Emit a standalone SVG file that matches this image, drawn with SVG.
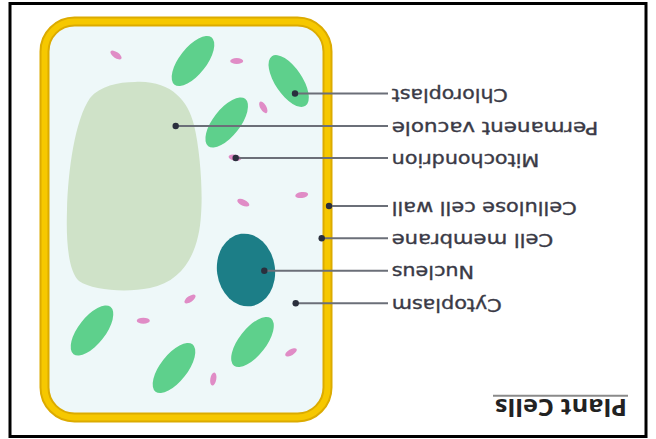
<svg xmlns="http://www.w3.org/2000/svg" width="656" height="439" viewBox="0 0 656 439">
  <style>
    .frame { fill: #ffffff; stroke: #000000; stroke-width: 3; }
    .wall-outer { fill: #eef8f9; stroke: #dcab00; stroke-width: 10; }
    .wall-inner { fill: none; stroke: #f6c800; stroke-width: 6; }
    .vacuole { fill: #cfe2c8; }
    .nucleus { fill: #1c7e87; }
    .chloro { fill: #5ed08c; }
    .mito { fill: #e08cc6; }
    .leader { stroke: #6b6f78; stroke-width: 2; fill: none; }
    .pin { fill: #2a2f3d; }
    .label { font-family: "DejaVu Sans", "Liberation Sans", sans-serif; font-size: 17px; fill: #3a3a46; stroke: #3a3a46; stroke-width: 0.35; }
    .title { font-family: "Open Sans", "Liberation Sans", sans-serif; font-size: 24px; font-weight: bold; fill: #222222; }
    .rule { stroke: #8a8a8a; stroke-width: 2; }
  </style>

  <rect class="frame" x="10" y="3.5" width="636" height="433"/>

  <!-- cell wall and membrane -->
  <g id="cell-wall">
    <rect class="wall-outer" x="44.5" y="21.5" width="283" height="396" rx="30" ry="30"/>
    <rect class="wall-inner" x="44.5" y="21.5" width="283" height="396" rx="30" ry="30"/>
  </g>

  <!-- permanent vacuole -->
  <g id="vacuole">
    <path class="vacuole" d="M135 82 C170 80 188 100 194 125 C200 150 203 190 201 215 C199 250 185 281 150 288 C125 293 92 290 79 281 C68 271 66 240 67 210 C68 170 75 120 90 98 C100 86 118 82 135 82 Z"/>
  </g>

  <!-- nucleus -->
  <g id="nucleus">
    <ellipse class="nucleus" cx="246" cy="270" rx="29" ry="36.5" transform="rotate(-8 246 270)"/>
  </g>

  <!-- chloroplasts -->
  <g id="chloroplasts">
    <ellipse class="chloro" cx="193" cy="61" rx="30" ry="13.5" transform="rotate(-52 193 61)"/>
    <ellipse class="chloro" cx="288.7" cy="81" rx="30" ry="13.5" transform="rotate(56 288.7 81)"/>
    <ellipse class="chloro" cx="226.7" cy="122.5" rx="30" ry="13.5" transform="rotate(-52 226.7 122.5)"/>
    <ellipse class="chloro" cx="92" cy="330.5" rx="30" ry="13.5" transform="rotate(-52 92 330.5)"/>
    <ellipse class="chloro" cx="174" cy="368" rx="30" ry="13.5" transform="rotate(-52 174 368)"/>
    <ellipse class="chloro" cx="252.5" cy="342" rx="30" ry="13.5" transform="rotate(-52 252.5 342)"/>
  </g>

  <!-- mitochondria -->
  <g id="mitochondria">
    <ellipse class="mito" cx="116" cy="55" rx="6.5" ry="3" transform="rotate(35 116 55)"/>
    <ellipse class="mito" cx="236.7" cy="61" rx="6.5" ry="3"/>
    <ellipse class="mito" cx="263.3" cy="107.3" rx="6.5" ry="3" transform="rotate(60 263.3 107.3)"/>
    <ellipse class="mito" cx="235" cy="157.7" rx="6.5" ry="3" transform="rotate(10 235 157.7)"/>
    <ellipse class="mito" cx="301.7" cy="195" rx="6.5" ry="3" transform="rotate(-8 301.7 195)"/>
    <ellipse class="mito" cx="243.3" cy="202.7" rx="6.5" ry="3" transform="rotate(25 243.3 202.7)"/>
    <ellipse class="mito" cx="190" cy="299" rx="6.5" ry="3" transform="rotate(-35 190 299)"/>
    <ellipse class="mito" cx="143.3" cy="320.7" rx="6.5" ry="3"/>
    <ellipse class="mito" cx="291" cy="352.3" rx="6.5" ry="3" transform="rotate(-30 291 352.3)"/>
    <ellipse class="mito" cx="213.3" cy="379" rx="6.5" ry="3" transform="rotate(-80 213.3 379)"/>
  </g>

  <!-- leader lines with pins -->
  <g id="connectors">
    <line class="leader" x1="295" y1="93.5" x2="388" y2="93.5"/>
    <line class="leader" x1="175.7" y1="126" x2="388" y2="126"/>
    <line class="leader" x1="235.7" y1="158" x2="388" y2="158"/>
    <line class="leader" x1="329" y1="206" x2="388" y2="206"/>
    <line class="leader" x1="321.7" y1="238.3" x2="388" y2="238.3"/>
    <line class="leader" x1="264.3" y1="270.7" x2="388" y2="270.7"/>
    <line class="leader" x1="295.7" y1="303.3" x2="388" y2="303.3"/>
    <circle class="pin" cx="295" cy="93.5" r="3.2"/>
    <circle class="pin" cx="175.7" cy="126" r="3.2"/>
    <circle class="pin" cx="235.7" cy="158" r="3.2"/>
    <circle class="pin" cx="329" cy="206" r="3.2"/>
    <circle class="pin" cx="321.7" cy="238.3" r="3.2"/>
    <circle class="pin" cx="264.3" cy="270.7" r="3.2"/>
    <circle class="pin" cx="295.7" cy="303.3" r="3.2"/>
  </g>

  <!-- labels (set upside down) -->
  <g id="labels">
    <text class="label" text-anchor="end" transform="translate(391.7 89) rotate(180)" textLength="116" lengthAdjust="spacingAndGlyphs">Chloroplast</text>
    <text class="label" text-anchor="end" transform="translate(391.7 121.5) rotate(180)" textLength="206.6" lengthAdjust="spacingAndGlyphs">Permanent vacuole</text>
    <text class="label" text-anchor="end" transform="translate(391.7 153.5) rotate(180)" textLength="147.6" lengthAdjust="spacingAndGlyphs">Mitochondrion</text>
    <text class="label" text-anchor="end" transform="translate(391.7 201.5) rotate(180)" textLength="185" lengthAdjust="spacingAndGlyphs">Cellulose cell wall</text>
    <text class="label" text-anchor="end" transform="translate(391.7 234) rotate(180)" textLength="161.6" lengthAdjust="spacingAndGlyphs">Cell membrane</text>
    <text class="label" text-anchor="end" transform="translate(391.7 266.2) rotate(180)" textLength="82.3" lengthAdjust="spacingAndGlyphs">Nucleus</text>
    <text class="label" text-anchor="end" transform="translate(391.7 298.8) rotate(180)" textLength="110" lengthAdjust="spacingAndGlyphs">Cytoplasm</text>
  </g>

  <!-- title with rule -->
  <g id="title">
    <line class="rule" x1="493" y1="395.7" x2="628" y2="395.7"/>
    <text class="title" text-anchor="end" transform="translate(495 399) rotate(180)" textLength="132" lengthAdjust="spacingAndGlyphs">Plant Cells</text>
  </g>
</svg>
